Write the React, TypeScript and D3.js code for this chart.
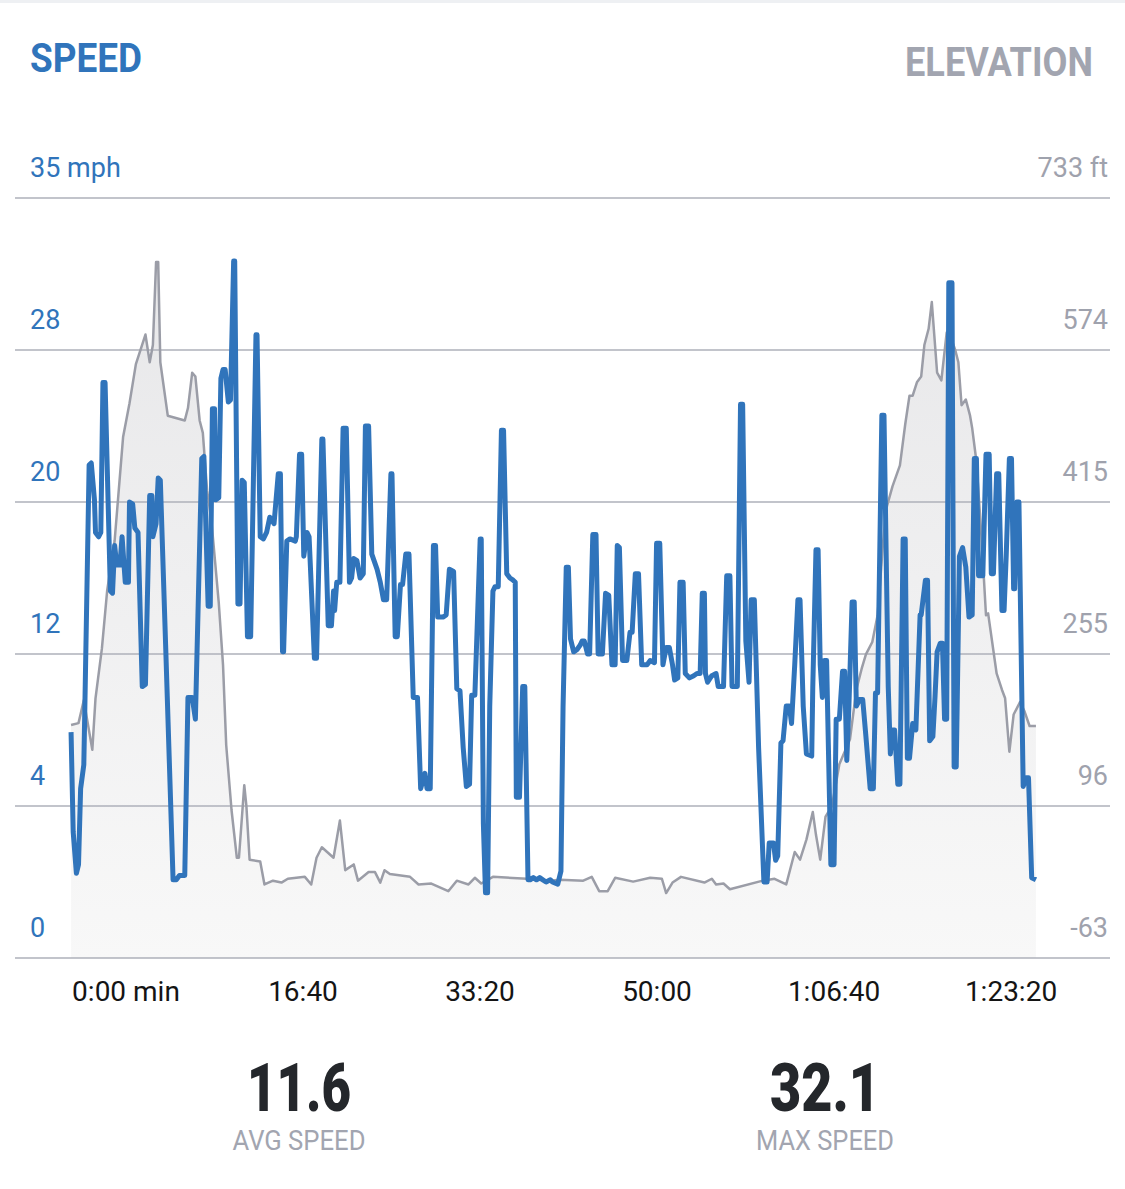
import * as d3 from 'd3'

// speed samples: [elapsed minutes, mph]
const speedSeries: [number, number][] = [
  [0.1,10.4],[0.3,5.8],[0.6,3.9],[0.8,4.3],[1.0,7.8],[1.3,8.9],[1.4,11.6],[1.8,22.7],[2.0,22.8],[2.3,21.1],
  [2.4,19.6],[2.7,19.4],[2.9,19.6],[3.1,26.5],[3.3,26.5],[3.8,16.9],[4.0,16.8],[4.2,19.0],[4.4,18.1],[4.7,18.1],
  [4.9,19.4],[5.2,17.3],[5.5,17.3],[5.6,21.0],[5.9,20.9],[6.1,19.8],[6.4,19.6],[6.8,12.5],[7.1,12.6],[7.5,21.3],
  [7.7,21.3],[7.8,19.4],[8.1,20.0],[8.3,22.1],[8.5,22.0],[9.0,14.4],[9.7,3.6],[10.0,3.6],[10.3,3.8],[10.8,3.8],
  [11.1,12.0],[11.5,12.0],[11.8,11.0],[12.4,23.0],[12.6,23.1],[13.0,16.2],[13.2,16.2],[13.4,25.3],[13.6,25.3],[13.7,21.1],
  [14.0,21.2],[14.2,26.7],[14.4,27.1],[14.6,27.1],[14.9,25.6],[15.1,25.7],[15.4,32.1],[15.5,32.1],[15.8,16.3],[16.0,16.3],
  [16.2,22.0],[16.4,21.9],[16.7,14.8],[17.0,14.8],[17.5,28.7],[17.6,28.7],[17.9,19.4],[18.2,19.3],[18.5,19.6],[18.8,20.3],
  [19.2,20.0],[19.6,22.3],[19.8,22.3],[20.0,14.1],[20.1,14.1],[20.4,19.2],[20.7,19.3],[21.2,19.2],[21.3,19.4],[21.6,23.2],
  [21.8,23.2],[22.0,18.5],[22.3,19.6],[22.5,19.4],[23.0,13.8],[23.2,13.8],[23.7,23.9],[23.8,23.9],[24.3,15.3],[24.6,15.3],
  [24.8,16.9],[24.9,16.0],[25.1,17.3],[25.4,17.3],[25.7,24.4],[26.0,24.4],[26.3,17.3],[26.5,17.5],[26.7,18.4],[27.0,18.3],
  [27.3,17.5],[27.6,17.7],[27.8,24.5],[28.1,24.5],[28.4,18.6],[28.9,17.9],[29.2,17.3],[29.5,16.5],[29.8,16.5],[30.2,22.3],
  [30.3,22.3],[30.6,14.8],[30.8,14.8],[31.1,17.2],[31.3,17.2],[31.6,18.6],[31.9,18.6],[32.3,12.0],[32.7,12.0],[33.0,7.8],
  [33.4,8.5],[33.6,7.8],[33.9,7.8],[34.2,19.0],[34.4,19.0],[34.6,15.7],[35.1,15.7],[35.4,15.8],[35.7,17.9],[36.1,17.8],
  [36.4,12.4],[36.7,12.3],[37.0,9.7],[37.3,7.9],[37.6,8.0],[37.8,12.1],[38.1,12.1],[38.6,19.3],[38.7,19.3],[38.9,6.2],
  [39.1,3.0],[39.3,3.0],[39.5,11.6],[39.8,16.9],[40.0,17.1],[40.3,17.1],[40.6,24.3],[40.8,24.3],[41.1,17.7],[41.4,17.5],
  [41.7,17.4],[41.9,17.3],[42.0,7.4],[42.3,7.4],[42.6,12.5],[42.8,12.5],[43.1,3.6],[43.3,3.6],[43.6,3.7],[43.9,3.6],
  [44.2,3.7],[44.5,3.6],[44.8,3.5],[45.2,3.6],[45.4,3.5],[45.9,3.4],[46.2,4.0],[46.4,11.6],[46.7,18.0],[46.9,18.0],
  [47.1,14.7],[47.4,14.1],[47.7,14.2],[48.0,14.4],[48.2,14.6],[48.4,14.6],[48.7,14.0],[48.9,14.0],[49.2,19.5],[49.5,19.5],
  [49.7,14.0],[50.1,14.0],[50.4,16.8],[50.7,16.7],[51.0,13.5],[51.3,13.5],[51.5,19.0],[51.7,18.9],[52.0,13.7],[52.4,13.7],
  [52.7,15.0],[52.9,15.0],[53.2,17.7],[53.5,17.7],[53.8,13.5],[54.3,13.5],[54.6,13.7],[55.0,13.6],[55.2,19.1],[55.5,19.1],
  [55.8,13.5],[56.1,14.3],[56.4,14.3],[56.7,13.5],[56.9,12.8],[57.2,12.9],[57.4,17.3],[57.7,17.3],[57.9,13.1],[58.3,12.9],
  [58.7,13.0],[59.0,13.1],[59.3,13.1],[59.5,16.8],[59.7,16.8],[59.8,13.1],[60.0,12.7],[60.4,13.0],[60.8,13.1],[61.0,12.5],
  [61.5,12.5],[61.8,17.6],[62.1,17.6],[62.3,12.5],[62.8,12.5],[63.1,25.5],[63.3,25.5],[63.6,14.6],[63.9,12.7],[64.1,16.5],
  [64.4,16.5],[64.8,9.7],[65.3,3.5],[65.6,3.5],[65.8,5.3],[66.2,5.3],[66.4,4.5],[66.6,4.7],[66.9,9.9],[67.1,10.0],
  [67.4,11.6],[67.7,11.6],[67.9,10.8],[68.2,13.5],[68.5,16.5],[68.7,16.5],[69.0,11.6],[69.3,9.4],[69.8,9.3],[69.9,12.5],
  [70.2,18.8],[70.4,18.8],[70.6,13.5],[70.8,12.0],[71.0,13.7],[71.2,13.7],[71.6,4.3],[71.9,4.3],[72.1,11.0],[72.4,11.0],
  [72.7,13.2],[72.9,13.2],[73.1,9.1],[73.3,11.6],[73.6,16.4],[73.8,16.4],[74.0,11.6],[74.3,11.9],[74.6,11.9],[74.9,10.2],
  [75.3,7.8],[75.6,7.8],[75.8,12.2],[76.0,12.2],[76.4,25.0],[76.6,25.0],[77.0,12.5],[77.2,9.4],[77.4,10.5],[77.6,10.5],
  [77.9,8.0],[78.1,8.0],[78.4,19.3],[78.6,19.3],[78.8,9.2],[79.0,9.2],[79.3,10.8],[79.6,10.5],[80.0,15.8],[80.1,15.8],
  [80.5,17.4],[80.7,17.4],[80.9,10.0],[81.2,10.2],[81.4,12.0],[81.6,14.1],[81.9,14.5],[82.1,14.5],[82.3,11.0],[82.5,11.0],
  [82.7,31.1],[83.0,31.1],[83.2,8.8],[83.4,8.8],[83.7,18.5],[84.0,18.9],[84.3,18.0],[84.6,15.7],[84.9,15.8],[85.1,23.0],
  [85.3,23.0],[85.5,17.6],[85.9,17.6],[86.2,23.2],[86.5,23.2],[86.7,17.7],[86.9,17.7],[87.2,22.3],[87.4,22.3],[87.7,16.0],
  [87.9,16.0],[88.1,18.5],[88.4,23.0],[88.6,23.0],[88.8,17.0],[88.9,17.0],[89.1,21.0],[89.3,21.0],[89.7,7.9],[90.0,8.3],
  [90.2,8.3],[90.5,3.7],[90.9,3.6],
]

// elevation samples: [elapsed minutes, feet]
const elevationSeries: [number, number][] = [
  [0.1,181],[0.8,183],[1.3,207],[2.1,155],[2.4,209],[3.0,261],[3.5,322],[4.2,374],[5.0,483],[5.6,518],
  [6.2,559],[7.1,590],[7.5,561],[7.8,579],[8.1,666],[8.3,666],[8.5,561],[9.2,505],[10.8,500],[11.1,513],
  [11.5,550],[11.8,546],[12.2,500],[12.5,487],[12.9,427],[13.3,396],[14.0,309],[14.4,244],[14.7,160],[15.2,92],
  [15.7,42],[15.9,42],[16.4,118],[16.6,96],[16.9,40],[17.9,38],[18.3,14],[19.1,18],[19.9,16],[20.5,20],
  [22.1,22],[22.7,14],[23.2,42],[23.7,53],[24.8,42],[25.4,81],[25.9,29],[26.7,35],[27.1,18],[28.1,27],
  [28.7,27],[29.2,16],[29.6,29],[30.1,25],[32.0,22],[32.8,14],[34.0,15],[35.6,7],[36.4,18],[37.5,14],
  [38.1,21],[38.7,15],[39.8,22],[43.0,20],[45.2,18],[46.1,19],[48.3,18],[49.1,22],[49.8,7],[50.6,7],
  [51.3,21],[53.0,17],[54.6,21],[55.7,20],[56.1,5],[56.7,16],[57.5,22],[59.7,16],[60.4,20],[60.8,14],
  [61.5,15],[62.1,9],[65.2,18],[66.3,20],[67.4,14],[68.2,48],[68.7,40],[69.3,61],[69.9,90],[70.2,66],
  [70.6,40],[71.1,85],[71.7,96],[72.4,140],[73.4,166],[74.0,218],[74.5,240],[74.9,255],[75.5,268],[76.0,296],
  [76.5,370],[76.8,407],[77.4,431],[78.1,453],[78.6,496],[79.0,526],[79.3,526],[79.7,540],[80.1,546],[80.4,579],
  [80.8,596],[81.1,624],[81.6,550],[82.0,542],[82.5,592],[82.8,590],[83.3,574],[83.6,561],[83.9,516],[84.3,522],
  [84.7,505],[84.9,492],[85.3,457],[85.8,374],[86.2,296],[86.4,298],[87.2,235],[87.7,218],[88.0,209],[88.4,153],
  [88.8,192],[89.4,205],[89.8,196],[90.3,180],[90.9,180],
]

const speedGridValues = [0, 7, 14, 21, 28, 35]
const speedTickLabels = ['0', '4', '12', '20', '28', '35 mph']
const elevTickLabels = ['-63', '96', '255', '415', '574', '733 ft']
const timeTickSeconds = [0, 1000, 2000, 3000, 4000, 5000]
const timeTickLabels = ['0:00 min', '16:40', '33:20', '50:00', '1:06:40', '1:23:20']
const statValues = ['11.6', '32.1']
const statLabels = ['AVG SPEED', 'MAX SPEED']

const W = 1125
const H = 1189
const BLUE = '#3074bb'
const GREY_TEXT = '#9fa2ad'
const FONT = 'Roboto, "Open Sans", sans-serif'

export default function App() {
  const x = d3.scaleLinear().domain([0, 91]).range([70, 1037])
  const ySpeed = d3.scaleLinear().domain([0, 35]).range([958, 198])
  const yElev = d3.scaleLinear().domain([-63, 733]).range([958, 198])
  const xLabel = d3.scaleLinear().domain([0, 5000]).range([126, 1011])
  const statX = d3.scalePoint<string>().domain(statLabels).range([299, 825])

  const speedLine = d3
    .line<[number, number]>()
    .x((d) => x(d[0]))
    .y((d) => ySpeed(d[1]))

  const elevLine = d3
    .line<[number, number]>()
    .x((d) => x(d[0]))
    .y((d) => yElev(d[1]))

  const elevArea = d3
    .area<[number, number]>()
    .x((d) => x(d[0]))
    .y0(yElev(-63))
    .y1((d) => yElev(d[1]))

  return (
    <svg
      width={W}
      height={H}
      style={{ position: 'absolute', left: 0, top: 0, display: 'block', background: '#fff' }}
      fontFamily={FONT}
    >
      <defs>
        <linearGradient id="elevFill" gradientUnits="userSpaceOnUse" x1="0" y1="198" x2="0" y2="958">
          <stop offset="0%" stopColor="#e6e6e8" />
          <stop offset="100%" stopColor="#f8f8f8" />
        </linearGradient>
      </defs>

      <rect x={0} y={0} width={W} height={3} fill="#eef0f3" />

      <text x={30} y={72} fontSize={40} fontWeight={700} fill={BLUE} textLength={112} lengthAdjust="spacingAndGlyphs">
        SPEED
      </text>
      <text x={1093} y={76} fontSize={40} fontWeight={700} fill="#a2a5b0" textAnchor="end" textLength={188} lengthAdjust="spacingAndGlyphs">
        ELEVATION
      </text>

      <path d={elevArea(elevationSeries) ?? ''} fill="url(#elevFill)" />

      {speedGridValues.map((v) => (
        <line key={v} x1={15} x2={1110} y1={ySpeed(v)} y2={ySpeed(v)} stroke="#aeb0ba" strokeWidth={1.5} />
      ))}

      <path d={elevLine(elevationSeries) ?? ''} fill="none" stroke="#9b9da7" strokeWidth={2.5} strokeLinejoin="round" />
      <path d={speedLine(speedSeries) ?? ''} fill="none" stroke={BLUE} strokeWidth={5} strokeLinejoin="round" />

      {speedGridValues.map((v, i) => (
        <g key={'lab' + v}>
          <text x={30} y={ySpeed(v) - 21} fontSize={27} fill={BLUE}>
            {speedTickLabels[i]}
          </text>
          <text x={1108} y={ySpeed(v) - 21} fontSize={27} fill={GREY_TEXT} textAnchor="end">
            {elevTickLabels[i]}
          </text>
        </g>
      ))}

      {timeTickSeconds.map((s, i) => (
        <text key={s} x={xLabel(s)} y={1001} fontSize={28} fill="#141414" textAnchor="middle">
          {timeTickLabels[i]}
        </text>
      ))}

      {statLabels.map((lab, i) => (
        <g key={lab}>
          <text
            x={statX(lab)}
            y={1111}
            fontSize={66}
            fontWeight={900}
            fill="#24272b"
            textAnchor="middle"
            textLength={i === 0 ? 104 : 110}
            lengthAdjust="spacingAndGlyphs"
          >
            {statValues[i]}
          </text>
          <text
            x={statX(lab)}
            y={1150}
            fontSize={28}
            fill="#a2a5b0"
            textAnchor="middle"
            textLength={i === 0 ? 133 : 138}
            lengthAdjust="spacingAndGlyphs"
          >
            {lab}
          </text>
        </g>
      ))}
    </svg>
  )
}
